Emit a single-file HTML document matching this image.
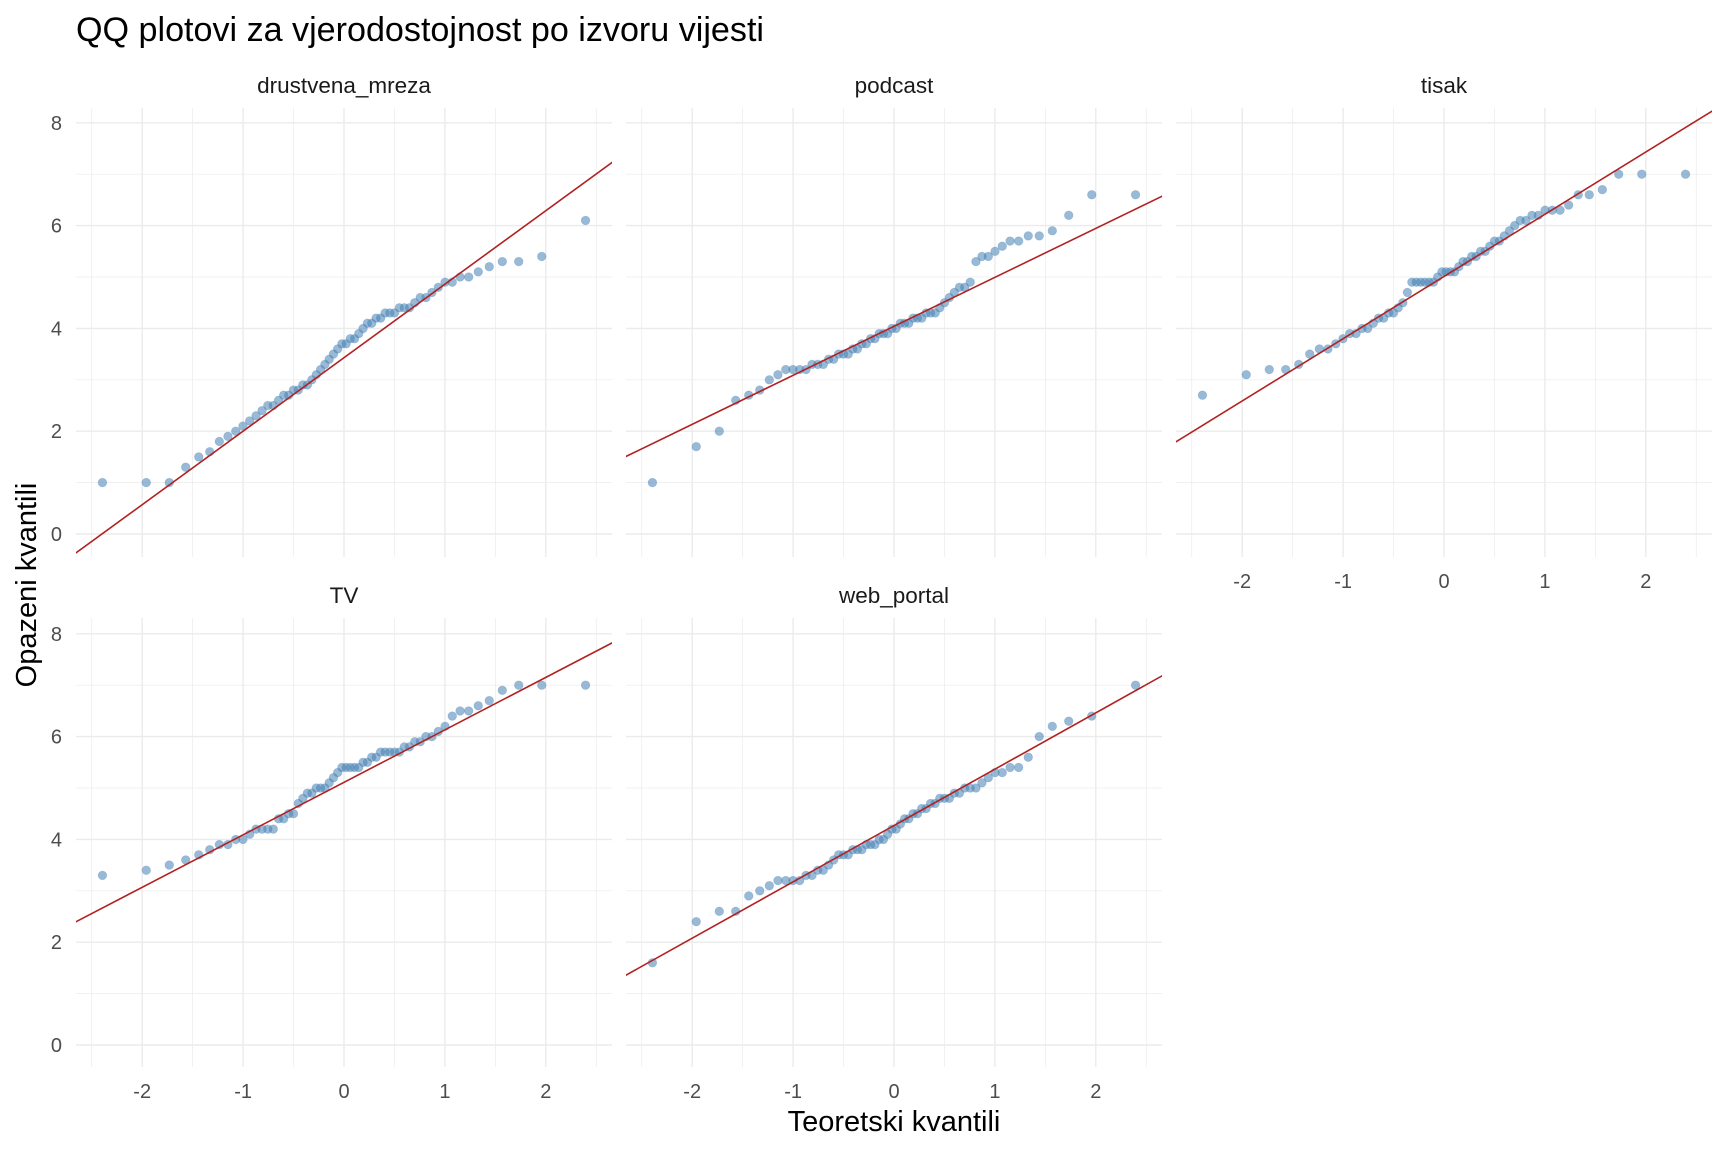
<!DOCTYPE html>
<html><head><meta charset="utf-8"><style>
html,body{margin:0;padding:0;background:#fff;}
svg{display:block;font-family:"Liberation Sans",Arial,sans-serif;}
</style></head><body>
<svg id="s" width="1728" height="1152" xmlns="http://www.w3.org/2000/svg">
<text x="76" y="41" font-size="34" fill="#000" textLength="688" lengthAdjust="spacingAndGlyphs">QQ plotovi za vjerodostojnost po izvoru vijesti</text>
<text x="894" y="1131" font-size="29" fill="#000" text-anchor="middle">Teoretski kvantili</text>
<text transform="translate(36,585) rotate(-90)" font-size="29" fill="#000" text-anchor="middle">Opazeni kvantili</text>
</svg>
<script>
var s=document.getElementById('s'),NS='http://www.w3.org/2000/svg';
function el(t,a,txt){var e=document.createElementNS(NS,t);for(var k in a)e.setAttribute(k,a[k]);if(txt!=null)e.textContent=txt;s.appendChild(e);return e;}
function qnorm(p){var a=[-39.6968302866538,220.946098424521,-275.928510446969,138.357751867269,-30.6647980661472,2.50662827745924],b=[-54.4760987982241,161.585836858041,-155.698979859887,66.8013118877197,-13.2806815528857],c=[-0.00778489400243029,-0.322396458041136,-2.40075827716184,-2.54973253934373,4.37466414146497,2.93816398269878],d=[0.00778469570904146,0.32246712907004,2.445134137143,3.75440866190742],pl=0.02425,q,r;
if(p<pl){q=Math.sqrt(-2*Math.log(p));return(((((c[0]*q+c[1])*q+c[2])*q+c[3])*q+c[4])*q+c[5])/((((d[0]*q+d[1])*q+d[2])*q+d[3])*q+1);}
if(p>1-pl){q=Math.sqrt(-2*Math.log(1-p));return-(((((c[0]*q+c[1])*q+c[2])*q+c[3])*q+c[4])*q+c[5])/((((d[0]*q+d[1])*q+d[2])*q+d[3])*q+1);}
q=p-0.5;r=q*q;return(((((a[0]*r+a[1])*r+a[2])*r+a[3])*r+a[4])*r+a[5])*q/(((((b[0]*r+b[1])*r+b[2])*r+b[3])*r+b[4])*r+1);}
var P=[
{n:"drustvena_mreza",c:0,r:0,s:1.43,i:3.43,a:[[-2.41,1],[-1.96,1],[-1.7,1],[-1.55,1.3],[-1.42,1.5],[-1.3,1.7],[-1.2,1.8],[-1.1,2],[-0.5,2.8],[-0.3,3],[-0.1,3.5],[0,3.7],[0.1,3.8],[0.3,4.2],[0.6,4.4],[0.9,4.7],[1,4.9],[1.2,5],[1.4,5.2],[1.55,5.3],[1.7,5.3],[1.96,5.4],[2.41,6.1]]},
{n:"podcast",c:1,r:0,s:0.953,i:4.04,a:[[-2.41,1],[-1.96,1.7],[-1.7,2],[-1.55,2.7],[-1.42,2.7],[-1.3,2.8],[-1.2,3.1],[-1,3.2],[-0.7,3.3],[-0.5,3.5],[-0.3,3.7],[-0.1,3.9],[0,4],[0.2,4.2],[0.4,4.3],[0.5,4.5],[0.6,4.7],[0.75,4.9],[0.8,5.3],[0.9,5.4],[1,5.5],[1.1,5.6],[1.3,5.8],[1.4,5.8],[1.55,5.9],[1.7,6.2],[1.96,6.6],[2.41,6.6]]},
{n:"tisak",c:2,r:0,s:1.211,i:5.01,a:[[-2.41,2.7],[-1.96,3.1],[-1.7,3.2],[-1.55,3.2],[-1.4,3.4],[-1.2,3.6],[-1,3.8],[-0.8,4],[-0.6,4.2],[-0.5,4.3],[-0.4,4.5],[-0.35,4.8],[-0.3,4.9],[-0.1,4.9],[0,5.1],[0.1,5.1],[0.2,5.3],[0.4,5.5],[0.6,5.8],[0.7,6],[0.8,6.1],[1,6.3],[1.2,6.3],[1.3,6.6],[1.4,6.6],[1.55,6.7],[1.7,7],[1.96,7],[2.41,7]]},
{n:"TV",c:0,r:1,s:1.021,i:5.11,a:[[-2.41,3.3],[-1.96,3.4],[-1.7,3.5],[-1.55,3.6],[-1.42,3.7],[-1.3,3.8],[-1.2,3.9],[-1,4],[-0.9,4.2],[-0.7,4.2],[-0.65,4.4],[-0.5,4.5],[-0.45,4.7],[-0.35,4.9],[-0.2,5],[-0.1,5.2],[-0.05,5.4],[0.1,5.4],[0.2,5.5],[0.3,5.6],[0.4,5.7],[0.55,5.7],[0.7,5.9],[0.9,6],[1,6.2],[1.1,6.5],[1.3,6.5],[1.4,6.7],[1.55,6.8],[1.6,7],[1.96,7],[2.41,7]]},
{n:"web_portal",c:1,r:1,s:1.096,i:4.27,a:[[-2.41,1.6],[-1.96,2.4],[-1.7,2.6],[-1.55,2.6],[-1.42,2.9],[-1.3,3],[-1.2,3.2],[-1,3.2],[-0.8,3.3],[-0.6,3.6],[-0.4,3.8],[-0.2,3.9],[-0.1,4],[0,4.2],[0.1,4.4],[0.3,4.6],[0.5,4.8],[0.7,5],[0.8,5],[0.9,5.2],[1.1,5.3],[1.3,5.5],[1.35,5.7],[1.45,6],[1.6,6.2],[1.75,6.3],[1.96,6.4],[2.41,7]]}];
function interp(a,q){if(q<=a[0][0])return a[0][1];for(var k=1;k<a.length;k++){if(q<=a[k][0]){var t=(q-a[k-1][0])/(a[k][0]-a[k-1][0]);return a[k-1][1]+t*(a[k][1]-a[k-1][1]);}}return a[a.length-1][1];}
var N=60,XS=100.9,YS=51.4;
P.forEach(function(p,pi){
 var L=76+550*p.c,R=L+536,T=108+510*p.r,B=T+449,x0=344+550*p.c,y0=534+511*p.r;
 function X(q){return x0+q*XS;} function Y(v){return y0-v*YS;}
 var cid='c'+pi;var cp=el('clipPath',{id:cid});var rr=document.createElementNS(NS,'rect');rr.setAttribute('x',L);rr.setAttribute('y',T);rr.setAttribute('width',R-L);rr.setAttribute('height',B-T);cp.appendChild(rr);
 for(var v=1;v<=7;v+=2)el('line',{x1:L,x2:R,y1:Y(v),y2:Y(v),stroke:'#ebebeb','stroke-width':0.7});
 for(var q=-2.5;q<=2.5;q+=1)el('line',{x1:X(q),x2:X(q),y1:T,y2:B,stroke:'#ebebeb','stroke-width':0.7});
 for(var v=0;v<=8;v+=2)el('line',{x1:L,x2:R,y1:Y(v),y2:Y(v),stroke:'#ebebeb','stroke-width':1.4});
 for(var q=-2;q<=2;q++)el('line',{x1:X(q),x2:X(q),y1:T,y2:B,stroke:'#ebebeb','stroke-width':1.4});
 el('text',{x:(L+R)/2,y:T-15,'font-size':22.5,fill:'#1a1a1a','text-anchor':'middle'},p.n);
 if(p.c==0)for(var v=0;v<=8;v+=2)el('text',{x:L-14,y:Y(v)+7,'font-size':20,fill:'#4d4d4d','text-anchor':'end'},v);
 if(p.r==1||p.c==2)for(var q=-2;q<=2;q++)el('text',{x:X(q),y:B+31,'font-size':20,fill:'#4d4d4d','text-anchor':'middle'},q);
 for(var k=1;k<=N;k++){var q=qnorm((k-0.5)/N);var v=Math.round(interp(p.a,q)*10)/10;
  el('circle',{cx:X(q),cy:Y(v),r:4.3,fill:'#4682b4','fill-opacity':0.55,stroke:'#4682b4','stroke-opacity':0.3,'stroke-width':0.8});}
 el('line',{x1:L-5,x2:R+5,y1:Y(p.i+p.s*(L-5-x0)/XS),y2:Y(p.i+p.s*(R+5-x0)/XS),stroke:'#b22222','stroke-width':1.6,'clip-path':'url(#'+cid+')'});
});
</script>
</body></html>
